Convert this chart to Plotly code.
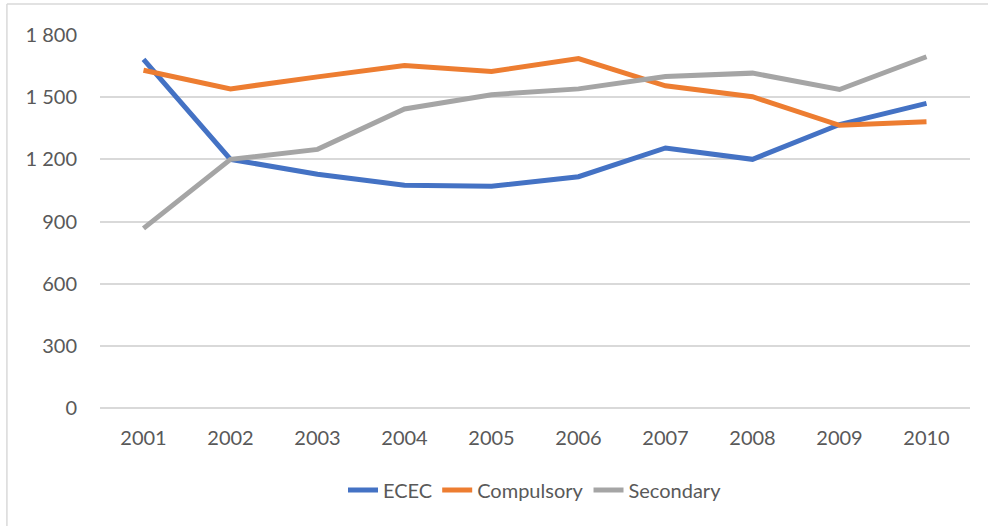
import plotly.graph_objects as go

years = ["2001", "2002", "2003", "2004", "2005", "2006", "2007", "2008", "2009", "2010"]
ecec = [1682, 1200, 1128, 1075, 1070, 1116, 1255, 1200, 1368, 1470]
compulsory = [1630, 1540, 1598, 1653, 1624, 1686, 1555, 1502, 1364, 1381]
secondary = [867, 1200, 1248, 1443, 1512, 1540, 1600, 1616, 1537, 1695]

y_ticks = [0, 300, 600, 900, 1200, 1500, 1800]
y_tick_text = ["0", "300", "600", "900", "1 200", "1 500", "1 800"]

series = [
    ("ECEC", ecec, "#4472C4"),
    ("Compulsory", compulsory, "#ED7D31"),
    ("Secondary", secondary, "#A5A5A5"),
]

font_family = "Lato, 'Open Sans', sans-serif"
text_color = "#595959"

fig = go.Figure()
for name, values, color in series:
    fig.add_trace(go.Scatter(
        x=years, y=values, name=name, mode="lines",
        line=dict(color=color, width=5),
    ))

fig.update_layout(
    width=988, height=526,
    paper_bgcolor="white", plot_bgcolor="white",
    margin=dict(l=100, r=18, t=35, b=118, autoexpand=False),
    font=dict(family=font_family, size=20, color=text_color),
    showlegend=True,
    legend=dict(
        orientation="h", x=0.5, xanchor="center",
        y=-0.22, yanchor="middle",
        font=dict(size=20, color=text_color),
        traceorder="normal", bgcolor="rgba(0,0,0,0)",
        itemwidth=30,
    ),
    xaxis=dict(
        type="category", range=[-0.5, 9.5], automargin=False,
        showgrid=False, showline=False, zeroline=False,
        ticks="", tickangle=0, tickfont=dict(size=20, color=text_color),
        ticklabelstandoff=16,
    ),
    yaxis=dict(
        range=[0, 1800], tickvals=y_ticks, ticktext=y_tick_text,
        automargin=False,
        showgrid=True, gridcolor="#D9D9D9", gridwidth=1.5,
        zeroline=True, zerolinecolor="#D9D9D9", zerolinewidth=1.5,
        showline=False, ticks="",
        tickfont=dict(size=20, color=text_color),
        ticklabelstandoff=22,
    ),
    shapes=[
        dict(type="line", xref="paper", yref="paper",
             x0=-0.107, x1=1.03, y0=1.083, y1=1.083,
             line=dict(color="#D9D9D9", width=1.5)),
        dict(type="line", xref="paper", yref="paper",
             x0=-0.107, x1=-0.107, y0=1.083, y1=-0.33,
             line=dict(color="#D9D9D9", width=1.5)),
    ],
)

fig.write_html("out.html")
